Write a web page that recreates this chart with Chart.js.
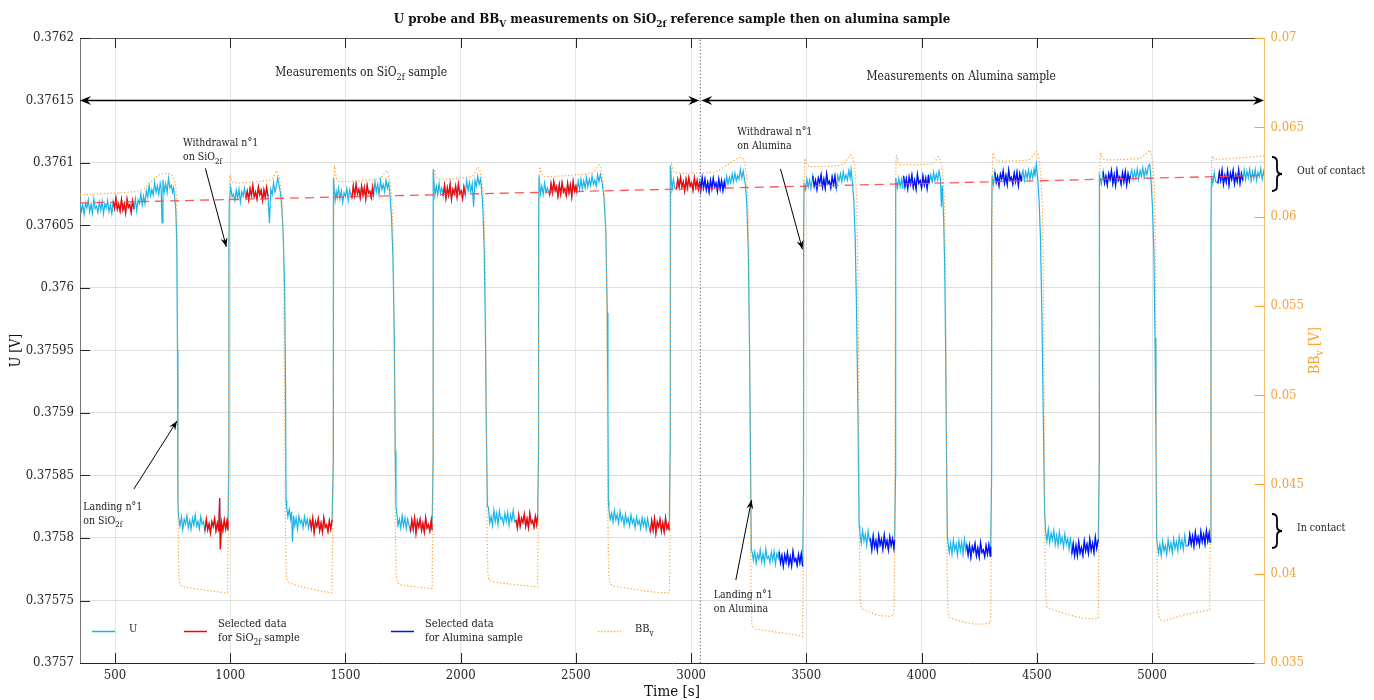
<!DOCTYPE html>
<html>
<head>
<meta charset="utf-8">
<script src="https://cdn.jsdelivr.net/npm/chart.js@4.4.1/dist/chart.umd.min.js"></script>
<style>
  html, body { margin: 0; padding: 0; background: #fff; }
  canvas { display: block; }
</style>
</head>
<body>
<canvas id="chart" width="1374" height="700"></canvas>
<script>
// U probe signal [time s, U V]
const uProbe = [
  // SiO2f: out of contact
  [348,0.3760698],[354,0.3760615],[360,0.3760662],[366,0.3760590],[372,0.3760680],[378,0.3760642],[384,0.3760705],[390,0.3760608],[396,0.3760670],[402,0.3760598],[408,0.3760712],[414,0.3760635],[420,0.3760655],[426,0.3760602],[432,0.3760688],[438,0.3760622],[444,0.3760695],[450,0.3760592],[456,0.3760675],[462,0.3760640],[468,0.3760702],[474,0.3760610],[480,0.3760665],[486,0.3760595],
  [492,0.3760695],[498,0.3760638],[504,0.3760720],[510,0.3760630],[516,0.3760668],[522,0.3760615],[528,0.3760708],[534,0.3760625],[540,0.3760672],[546,0.3760600],[552,0.3760710],[558,0.3760645],[564,0.3760665],[570,0.3760605],[576,0.3760698],[582,0.3760632],
  [588,0.3760715],[594,0.3760620],[600,0.3760705],[606,0.3760675],[612,0.3760752],[618,0.3760665],[624,0.3760735],[630,0.3760673],[636,0.3760775],[642,0.3760728],[648,0.3760820],[654,0.3760738],[660,0.3760788],[666,0.3760743],[672,0.3760843],[678,0.3760765],[684,0.3760817],[690,0.3760748],[696,0.3760840],[700,0.3760802],[704,0.3760520],[708,0.3760865],[714,0.3760770],[720,0.3760835],[726,0.3760763],[732,0.3760877],[738,0.3760800],[744,0.3760820],[750,0.3760767],[754,0.3760800],[758,0.3760740],[764,0.3760620],[768,0.3760350],[771,0.3759500],[773,0.3758300],
  // in contact
  [776,0.3758163],[782,0.3758097],[788,0.3758170],[794,0.3758067],[800,0.3758150],[806,0.3758115],[812,0.3758177],[818,0.3758085],[824,0.3758140],[830,0.3758070],[836,0.3758160],[842,0.3758103],[848,0.3758185],[854,0.3758095],[860,0.3758133],[866,0.3758073],[872,0.3758173],[878,0.3758110],[884,0.3758130],
  [890,0.3758055],[896,0.3758148],[902,0.3758065],[908,0.3758112],[914,0.3758040],[920,0.3758130],[926,0.3758092],[932,0.3758155],[938,0.3758058],[944,0.3758120],[950,0.3758052],[954,0.3758320],[957,0.3757910],[962,0.3758125],[968,0.3758060],[974,0.3758145],[980,0.3758072],[986,0.3758138],[990,0.3758062],
  [994,0.3758600],[994,0.3759500],[994,0.3760300],[996,0.3760700],
  // out of contact
  [1002,0.3760807],[1008,0.3760730],[1014,0.3760750],[1020,0.3760697],[1026,0.3760783],[1032,0.3760717],[1038,0.3760790],[1044,0.3760687],[1050,0.3760770],[1056,0.3760735],[1062,0.3760797],
  [1068,0.3760720],[1074,0.3760775],[1080,0.3760705],[1086,0.3760795],[1092,0.3760738],[1098,0.3760820],[1104,0.3760730],[1110,0.3760768],[1116,0.3760712],[1122,0.3760808],[1128,0.3760745],[1134,0.3760782],[1140,0.3760700],[1146,0.3760785],[1152,0.3760725],[1158,0.3760805],[1164,0.3760732],
  [1170,0.3760520],[1176,0.3760790],[1182,0.3760748],[1188,0.3760842],[1194,0.3760768],[1200,0.3760812],[1206,0.3760880],[1212,0.3760820],[1218,0.3760760],[1224,0.3760640],[1230,0.3760420],[1236,0.3760000],[1240,0.3759200],[1242,0.3758300],
  // in contact
  [1245,0.3758240],[1250,0.3758172],[1256,0.3758230],[1262,0.3758150],[1266,0.3758210],[1270,0.3757970],[1275,0.3758180],[1280,0.3758097],[1286,0.3758160],[1292,0.3758070],[1298,0.3758175],[1304,0.3758117],[1310,0.3758145],[1316,0.3758083],[1322,0.3758170],[1328,0.3758103],[1334,0.3758150],[1340,0.3758080],
  [1346,0.3758148],[1352,0.3758075],[1358,0.3758160],[1364,0.3758045],[1370,0.3758130],[1376,0.3758092],[1382,0.3758155],[1388,0.3758058],[1394,0.3758120],[1400,0.3758048],[1406,0.3758162],[1412,0.3758085],[1418,0.3758105],[1424,0.3758052],[1430,0.3758138],[1436,0.3758072],[1442,0.3758145],
  [1447,0.3758600],[1447,0.3759600],[1447,0.3760400],[1449,0.3760880],
  // out of contact
  [1455,0.3760700],[1460,0.3760770],[1464,0.3760722],[1470,0.3760800],[1476,0.3760712],[1482,0.3760778],[1488,0.3760685],[1494,0.3760760],[1500,0.3760730],[1506,0.3760795],[1512,0.3760698],[1518,0.3760785],
  [1528,0.3760718],[1534,0.3760818],[1540,0.3760740],[1546,0.3760830],[1552,0.3760755],[1558,0.3760790],[1564,0.3760722],[1570,0.3760815],[1576,0.3760742],[1582,0.3760805],[1588,0.3760712],[1594,0.3760822],[1600,0.3760760],[1606,0.3760775],[1612,0.3760722],[1618,0.3760808],[1622,0.3760742],
  [1628,0.3760850],[1634,0.3760770],[1640,0.3760830],[1646,0.3760745],[1652,0.3760860],[1658,0.3760790],[1664,0.3760828],[1670,0.3760770],[1676,0.3760862],[1682,0.3760800],[1688,0.3760840],[1694,0.3760720],[1700,0.3760560],[1706,0.3760250],[1712,0.3759600],[1716,0.3758700],[1719,0.3758250],
  // in contact
  [1722,0.3758210],[1728,0.3758100],[1734,0.3758150],[1740,0.3758077],[1746,0.3758180],[1752,0.3758095],[1758,0.3758160],[1764,0.3758075],[1770,0.3758150],[1776,0.3758103],
  [1782,0.3758052],[1788,0.3758145],[1794,0.3758070],[1800,0.3758160],[1806,0.3758040],[1812,0.3758135],[1818,0.3758088],[1824,0.3758150],[1830,0.3758060],[1836,0.3758118],[1842,0.3758048],[1848,0.3758162],[1854,0.3758080],[1860,0.3758108],[1866,0.3758055],[1872,0.3758140],[1876,0.3758065],
  [1880,0.3758600],[1880,0.3759600],[1880,0.3760500],[1882,0.3760950],
  // out of contact
  [1888,0.3760740],[1894,0.3760815],[1900,0.3760745],[1906,0.3760835],[1912,0.3760758],[1918,0.3760800],
  [1924,0.3760738],[1930,0.3760822],[1936,0.3760718],[1942,0.3760802],[1948,0.3760742],[1954,0.3760830],[1960,0.3760710],[1966,0.3760790],[1972,0.3760752],[1978,0.3760815],[1984,0.3760728],[1990,0.3760832],[1996,0.3760755],[2002,0.3760778],[2008,0.3760715],[2014,0.3760808],[2020,0.3760745],
  [2026,0.3760858],[2032,0.3760780],[2038,0.3760845],[2044,0.3760770],[2050,0.3760835],[2056,0.3760650],[2062,0.3760860],[2068,0.3760812],[2074,0.3760895],[2080,0.3760830],[2086,0.3760870],[2092,0.3760760],[2097,0.3760600],[2102,0.3760300],[2107,0.3759700],[2111,0.3758900],[2116,0.3758250],
  // in contact
  [2120,0.3758250],[2126,0.3758120],[2132,0.3758172],[2138,0.3758100],[2144,0.3758222],[2150,0.3758130],[2156,0.3758198],[2162,0.3758108],[2168,0.3758218],[2174,0.3758150],[2180,0.3758165],[2186,0.3758112],[2192,0.3758198],[2198,0.3758132],[2204,0.3758205],[2210,0.3758102],[2216,0.3758185],[2222,0.3758138],[2228,0.3758220],[2234,0.3758130],
  [2240,0.3758143],[2246,0.3758080],[2252,0.3758183],[2258,0.3758095],[2264,0.3758160],[2270,0.3758125],[2276,0.3758190],[2282,0.3758093],[2288,0.3758155],[2294,0.3758083],[2300,0.3758197],[2306,0.3758120],[2312,0.3758140],[2318,0.3758087],[2324,0.3758173],[2330,0.3758107],[2334,0.3758180],
  [2338,0.3758700],[2338,0.3759700],[2338,0.3760500],[2340,0.3760900],
  // out of contact
  [2346,0.3760752],[2352,0.3760815],[2358,0.3760748],[2364,0.3760840],[2370,0.3760765],[2376,0.3760802],
  [2386,0.3760742],[2392,0.3760835],[2398,0.3760762],[2404,0.3760850],[2410,0.3760780],[2416,0.3760812],[2422,0.3760735],[2428,0.3760828],[2434,0.3760750],[2440,0.3760842],[2446,0.3760768],[2452,0.3760795],[2458,0.3760740],[2464,0.3760838],[2470,0.3760760],[2476,0.3760825],[2482,0.3760732],[2488,0.3760852],[2494,0.3760775],[2500,0.3760815],[2504,0.3760762],
  [2510,0.3760855],[2516,0.3760790],[2522,0.3760870],[2528,0.3760795],[2534,0.3760858],[2540,0.3760800],[2546,0.3760885],[2552,0.3760810],[2558,0.3760870],[2564,0.3760818],[2570,0.3760895],[2576,0.3760830],[2582,0.3760862],[2588,0.3760815],[2594,0.3760905],[2600,0.3760850],[2606,0.3760910],[2614,0.3760840],[2622,0.3760720],[2630,0.3760450],[2636,0.3759800],[2639,0.3759000],[2641,0.3758300],
  // in contact
  [2643,0.3758228],[2649,0.3758150],[2655,0.3758200],[2661,0.3758128],[2667,0.3758220],[2673,0.3758145],[2679,0.3758190],[2685,0.3758118],[2691,0.3758212],[2697,0.3758140],[2703,0.3758175],[2709,0.3758100],[2715,0.3758190],[2721,0.3758125],[2727,0.3758160],[2733,0.3758095],[2739,0.3758185],[2745,0.3758118],[2751,0.3758150],[2757,0.3758082],[2763,0.3758168],[2769,0.3758110],[2775,0.3758140],[2781,0.3758075],[2787,0.3758162],[2793,0.3758098],[2799,0.3758150],[2805,0.3758072],[2811,0.3758155],[2817,0.3758090],
  [2823,0.3758045],[2829,0.3758140],[2835,0.3758062],[2841,0.3758155],[2847,0.3758038],[2853,0.3758128],[2859,0.3758090],[2865,0.3758150],[2871,0.3758055],[2877,0.3758122],[2883,0.3758048],[2889,0.3758160],[2895,0.3758075],[2901,0.3758110],[2905,0.3758060],
  [2909,0.3758700],[2909,0.3759700],[2909,0.3760500],[2911,0.3760980],
  // out of contact
  [2917,0.3760790],[2923,0.3760870],[2929,0.3760800],
  [2936,0.3760790],[2942,0.3760868],[2948,0.3760805],[2954,0.3760885],[2960,0.3760808],[2966,0.3760850],[2972,0.3760775],[2978,0.3760868],[2984,0.3760800],[2990,0.3760882],[2996,0.3760815],[3002,0.3760842],[3008,0.3760782],[3014,0.3760878],[3020,0.3760805],[3026,0.3760860],[3032,0.3760790],[3037,0.3760855],
  // alumina: out of contact
  [3042,0.3760780],[3048,0.3760880],[3054,0.3760800],[3060,0.3760870],[3066,0.3760785],[3072,0.3760845],[3078,0.3760770],[3084,0.3760862],[3090,0.3760795],[3096,0.3760877],[3102,0.3760810],[3108,0.3760840],[3114,0.3760773],[3120,0.3760870],[3126,0.3760792],[3132,0.3760860],[3138,0.3760780],[3144,0.3760850],[3148,0.3760800],
  [3154,0.3760895],[3160,0.3760830],[3166,0.3760885],[3172,0.3760840],[3178,0.3760912],[3184,0.3760848],[3190,0.3760920],[3196,0.3760858],[3202,0.3760900],[3208,0.3760870],[3214,0.3760950],[3220,0.3760880],[3226,0.3760935],[3232,0.3760865],[3236,0.3760820],[3242,0.3760650],[3248,0.3760300],[3253,0.3759600],[3257,0.3758800],[3261,0.3757900],
  // in contact
  [3264,0.3757895],[3270,0.3757822],[3276,0.3757890],[3282,0.3757797],[3288,0.3757870],[3294,0.3757830],[3300,0.3757905],[3306,0.3757808],[3312,0.3757875],[3318,0.3757800],[3324,0.3757912],[3330,0.3757835],[3336,0.3757855],[3342,0.3757802],[3348,0.3757888],[3354,0.3757822],[3360,0.3757895],[3366,0.3757792],[3372,0.3757875],[3378,0.3757840],
  [3382,0.3757890],[3388,0.3757800],[3394,0.3757860],[3400,0.3757775],[3406,0.3757865],[3412,0.3757808],[3418,0.3757882],[3424,0.3757788],[3430,0.3757850],[3436,0.3757778],[3442,0.3757892],[3448,0.3757815],[3454,0.3757835],[3460,0.3757782],[3466,0.3757868],[3472,0.3757802],[3478,0.3757875],[3484,0.3757772],
  [3488,0.3758400],[3488,0.3759500],[3488,0.3760400],[3490,0.3760830],
  // out of contact
  [3496,0.3760790],[3502,0.3760872],[3508,0.3760808],[3514,0.3760865],[3520,0.3760795],
  [3528,0.3760898],[3534,0.3760815],[3540,0.3760862],[3546,0.3760790],[3552,0.3760880],[3558,0.3760842],[3564,0.3760905],[3570,0.3760808],[3576,0.3760870],[3582,0.3760798],[3588,0.3760912],[3594,0.3760835],[3600,0.3760855],[3606,0.3760802],[3612,0.3760888],[3618,0.3760828],[3624,0.3760895],[3630,0.3760795],
  [3636,0.3760900],[3642,0.3760858],[3648,0.3760915],[3654,0.3760850],[3660,0.3760930],[3666,0.3760868],[3672,0.3760905],[3678,0.3760862],[3684,0.3760940],[3690,0.3760880],[3694,0.3760950],[3700,0.3760840],[3706,0.3760700],[3712,0.3760400],[3718,0.3759800],[3724,0.3759000],[3729,0.3758100],
  // in contact
  [3732,0.3758045],[3738,0.3757958],[3744,0.3758060],[3750,0.3757975],[3756,0.3758030],[3762,0.3757942],[3768,0.3758055],[3774,0.3757980],
  [3778,0.3757995],[3784,0.3757905],[3790,0.3758015],[3796,0.3757925],[3802,0.3757978],[3808,0.3757902],[3814,0.3758020],[3820,0.3757945],[3826,0.3757990],[3832,0.3757912],[3838,0.3758022],[3844,0.3757935],[3850,0.3757980],[3856,0.3757905],[3862,0.3758010],[3868,0.3757940],[3874,0.3757995],[3880,0.3757918],[3883,0.3757985],
  [3887,0.3758500],[3887,0.3759500],[3887,0.3760400],[3889,0.3760880],
  // out of contact
  [3895,0.3760800],[3901,0.3760878],[3907,0.3760810],[3913,0.3760870],[3918,0.3760795],
  [3922,0.3760898],[3928,0.3760812],[3934,0.3760875],[3940,0.3760795],[3946,0.3760888],[3952,0.3760830],[3958,0.3760902],[3964,0.3760805],[3970,0.3760862],[3976,0.3760790],[3982,0.3760910],[3988,0.3760838],[3994,0.3760860],[4000,0.3760800],[4006,0.3760895],[4012,0.3760825],[4018,0.3760880],[4024,0.3760798],[4030,0.3760905],[4033,0.3760840],
  [4040,0.3760905],[4046,0.3760850],[4052,0.3760925],[4058,0.3760858],[4064,0.3760912],[4070,0.3760865],[4076,0.3760935],[4082,0.3760875],[4086,0.3760650],[4090,0.3760820],[4096,0.3760550],[4101,0.3760100],[4105,0.3759400],[4109,0.3758500],[4112,0.3758000],
  // in contact
  [4114,0.3757975],[4120,0.3757885],[4126,0.3757962],[4132,0.3757870],[4138,0.3757985],[4144,0.3757902],[4150,0.3757950],[4156,0.3757862],[4162,0.3757978],[4168,0.3757895],[4174,0.3757968],[4180,0.3757870],[4186,0.3757990],[4192,0.3757900],
  [4196,0.3757948],[4202,0.3757865],[4208,0.3757942],[4214,0.3757845],[4220,0.3757930],[4226,0.3757892],[4232,0.3757955],[4238,0.3757858],[4244,0.3757920],[4250,0.3757848],[4256,0.3757962],[4262,0.3757885],[4268,0.3757905],[4274,0.3757852],[4280,0.3757938],[4286,0.3757872],[4292,0.3757945],[4298,0.3757855],[4300,0.3757930],
  [4304,0.3758500],[4304,0.3759600],[4304,0.3760500],[4306,0.3760900],
  // out of contact
  [4312,0.3760830],
  [4318,0.3760928],[4324,0.3760845],[4330,0.3760892],[4336,0.3760820],[4342,0.3760910],[4348,0.3760872],[4354,0.3760935],[4360,0.3760838],[4366,0.3760900],[4372,0.3760828],[4378,0.3760942],[4384,0.3760865],[4390,0.3760885],[4396,0.3760832],[4402,0.3760918],[4408,0.3760852],[4414,0.3760925],[4420,0.3760822],[4426,0.3760915],[4432,0.3760858],[4434,0.3760900],
  [4440,0.3760940],[4446,0.3760862],[4452,0.3760930],[4458,0.3760878],[4464,0.3760945],[4470,0.3760870],[4476,0.3760935],[4482,0.3760882],[4488,0.3760950],[4492,0.3760890],[4498,0.3760990],[4504,0.3760880],[4510,0.3760700],[4516,0.3760400],[4522,0.3759800],[4528,0.3759000],[4534,0.3758200],
  // in contact
  [4538,0.3758058],[4544,0.3757975],[4550,0.3758070],[4556,0.3757960],[4562,0.3758040],[4568,0.3757985],[4574,0.3758062],[4580,0.3757948],[4586,0.3758022],[4592,0.3757940],[4598,0.3758050],[4604,0.3757962],[4610,0.3758005],[4616,0.3757928],[4622,0.3758032],[4628,0.3757950],[4634,0.3757995],[4640,0.3757912],[4646,0.3758010],
  [4652,0.3757872],[4658,0.3757955],[4664,0.3757860],[4670,0.3757940],[4676,0.3757858],[4682,0.3757968],[4688,0.3757880],[4694,0.3757925],[4700,0.3757862],[4706,0.3757975],[4712,0.3757895],[4718,0.3757950],[4724,0.3757878],[4730,0.3757992],[4736,0.3757900],[4742,0.3757960],[4748,0.3757885],[4754,0.3758005],[4760,0.3757918],[4767,0.3757990],
  [4771,0.3758600],[4771,0.3759600],[4771,0.3760500],[4773,0.3760900],
  // out of contact
  [4780,0.3760830],
  [4788,0.3760932],[4794,0.3760840],[4800,0.3760895],[4806,0.3760825],[4812,0.3760915],[4818,0.3760868],[4824,0.3760938],[4830,0.3760835],[4836,0.3760905],[4842,0.3760822],[4848,0.3760940],[4854,0.3760860],[4860,0.3760888],[4866,0.3760830],[4872,0.3760922],[4878,0.3760850],[4884,0.3760930],[4890,0.3760825],[4896,0.3760912],[4902,0.3760855],[4906,0.3760900],
  [4912,0.3760945],[4918,0.3760868],[4924,0.3760935],[4930,0.3760880],[4936,0.3760952],[4942,0.3760872],[4948,0.3760940],[4954,0.3760895],[4960,0.3760962],[4966,0.3760885],[4972,0.3760950],[4978,0.3760905],[4984,0.3760975],[4990,0.3760990],[4996,0.3760850],[5002,0.3760650],[5008,0.3760300],[5013,0.3759600],[5017,0.3758800],[5020,0.3758000],
  // in contact
  [5022,0.3757965],[5028,0.3757880],[5034,0.3757950],[5040,0.3757858],[5046,0.3757975],[5052,0.3757895],[5058,0.3757940],[5064,0.3757868],[5070,0.3757985],[5076,0.3757902],[5082,0.3757962],[5088,0.3757880],[5094,0.3757995],[5100,0.3757915],[5106,0.3757970],[5112,0.3757898],[5118,0.3758010],[5124,0.3757925],[5130,0.3757985],[5136,0.3757910],[5142,0.3758020],[5148,0.3757935],
  [5158,0.3757940],[5164,0.3758030],[5170,0.3757950],[5176,0.3758015],[5182,0.3757935],[5188,0.3758045],[5194,0.3757962],[5200,0.3758010],[5206,0.3757945],[5212,0.3758050],[5218,0.3757970],[5224,0.3758028],[5230,0.3757952],[5236,0.3758058],[5242,0.3757975],[5248,0.3758040],[5252,0.3757965],
  [5256,0.3758600],[5256,0.3759600],[5256,0.3760500],[5258,0.3760900],
  // out of contact
  [5264,0.3760835],[5270,0.3760925],[5276,0.3760850],
  [5286,0.3760838],[5292,0.3760925],[5298,0.3760860],[5304,0.3760942],[5310,0.3760830],[5316,0.3760900],[5322,0.3760848],[5328,0.3760935],[5334,0.3760825],[5340,0.3760918],[5346,0.3760870],[5352,0.3760940],[5358,0.3760835],[5364,0.3760905],[5370,0.3760852],[5376,0.3760945],[5382,0.3760838],[5388,0.3760915],[5394,0.3760860],
  [5400,0.3760945],[5406,0.3760865],[5412,0.3760935],[5418,0.3760880],[5424,0.3760952],[5430,0.3760858],[5436,0.3760930],[5442,0.3760875],[5448,0.3760948],[5454,0.3760862],[5460,0.3760925],[5466,0.3760890],[5472,0.3760955],[5478,0.3760870],[5484,0.3760930],[5486,0.3760900]
];

// BB_v signal [time s, V], right axis
const bbV = [
  [348,0.06121],[370,0.06124],[390,0.06122],[410,0.06126],[430,0.06125],[450,0.06129],[470,0.06128],[490,0.06132],[510,0.06131],[530,0.06134],[550,0.06136],[570,0.06138],[590,0.06140],[610,0.06146],[630,0.06160],[650,0.06185],[665,0.06205],[680,0.06225],[695,0.06236],[710,0.06240],[725,0.06244],[740,0.06238],[750,0.06225],[758,0.06200],[764,0.06160],[768,0.06080],[771,0.05700],[773,0.04800],[775,0.04100],[778,0.03960],
  [784,0.03935],[800,0.03927],[820,0.03922],[840,0.03918],[860,0.03913],[880,0.03910],[900,0.03906],[920,0.03903],[940,0.03900],[960,0.03896],[980,0.03892],[988,0.03895],
  [991,0.04200],[993,0.05200],[995,0.05900],[997,0.06200],[999,0.06233],[1004,0.06210],[1012,0.06192],
  [1030,0.06186],[1050,0.06188],[1070,0.06190],[1090,0.06192],[1110,0.06195],[1130,0.06197],[1150,0.06200],[1170,0.06203],[1185,0.06215],[1195,0.06240],[1201,0.06257],[1207,0.06245],[1213,0.06215],[1219,0.06170],[1225,0.06080],[1231,0.05800],[1236,0.05000],[1240,0.04200],[1243,0.03990],[1248,0.03960],
  [1260,0.03946],[1280,0.03938],[1300,0.03930],[1320,0.03924],[1340,0.03918],[1360,0.03912],[1380,0.03906],[1400,0.03902],[1420,0.03897],[1440,0.03893],
  [1445,0.04200],[1447,0.05200],[1449,0.05900],[1451,0.06250],[1453,0.06270],[1460,0.06215],[1470,0.06198],
  [1490,0.06195],[1510,0.06196],[1530,0.06198],[1550,0.06199],[1570,0.06201],[1590,0.06203],[1610,0.06205],[1630,0.06207],[1650,0.06212],[1662,0.06228],[1672,0.06250],[1678,0.06257],[1684,0.06245],[1690,0.06215],[1696,0.06170],[1702,0.06080],[1708,0.05800],[1713,0.05000],[1717,0.04200],[1720,0.03990],[1725,0.03950],
  [1740,0.03937],[1760,0.03933],[1780,0.03930],[1800,0.03927],[1820,0.03924],[1840,0.03921],[1860,0.03919],[1876,0.03918],
  [1878,0.04200],[1880,0.05200],[1882,0.05900],[1884,0.06250],[1886,0.06265],[1893,0.06225],[1903,0.06210],
  [1920,0.06209],[1940,0.06211],[1960,0.06212],[1980,0.06214],[2000,0.06216],[2020,0.06218],[2040,0.06222],[2055,0.06232],[2066,0.06258],[2075,0.06276],[2082,0.06262],[2088,0.06232],[2094,0.06180],[2100,0.06080],[2106,0.05800],[2111,0.05000],[2115,0.04200],[2118,0.04000],[2123,0.03965],
  [2140,0.03955],[2160,0.03951],[2180,0.03947],[2200,0.03944],[2220,0.03941],[2240,0.03938],[2260,0.03935],[2280,0.03933],[2300,0.03930],[2320,0.03928],[2334,0.03927],
  [2336,0.04200],[2338,0.05200],[2340,0.05900],[2342,0.06260],[2344,0.06280],[2351,0.06240],[2361,0.06225],
  [2380,0.06223],[2400,0.06224],[2420,0.06226],[2440,0.06228],[2460,0.06229],[2480,0.06231],[2500,0.06233],[2520,0.06235],[2540,0.06237],[2560,0.06240],[2575,0.06248],[2588,0.06270],[2600,0.06289],[2607,0.06272],[2614,0.06240],[2620,0.06190],[2626,0.06090],[2632,0.05800],[2636,0.05000],[2639,0.04300],[2642,0.04000],[2647,0.03950],
  [2660,0.03931],[2680,0.03927],[2700,0.03923],[2720,0.03919],[2740,0.03915],[2760,0.03911],[2780,0.03907],[2800,0.03903],[2820,0.03900],[2840,0.03897],[2860,0.03895],[2880,0.03894],[2900,0.03893],[2906,0.03896],
  [2908,0.04200],[2910,0.05200],[2912,0.05900],[2914,0.06270],[2916,0.06289],[2923,0.06255],[2933,0.06244],
  [2950,0.06242],[2970,0.06243],[2990,0.06242],[3010,0.06244],[3030,0.06243],[3050,0.06245],[3070,0.06244],[3090,0.06246],[3104,0.06247],[3120,0.06258],[3140,0.06275],[3160,0.06292],[3174,0.06303],[3190,0.06318],[3205,0.06328],[3218,0.06332],[3226,0.06322],[3234,0.06290],[3240,0.06230],[3246,0.06100],[3251,0.05800],[3255,0.05000],[3258,0.04200],[3261,0.03800],[3264,0.03710],
  [3275,0.03692],[3295,0.03688],[3315,0.03684],[3335,0.03680],[3355,0.03676],[3375,0.03672],[3395,0.03668],[3415,0.03664],[3435,0.03660],[3455,0.03656],[3475,0.03652],[3484,0.03651],
  [3486,0.04000],[3488,0.05000],[3490,0.05900],[3492,0.06300],[3494,0.06326],[3501,0.06295],[3511,0.06281],
  [3530,0.06279],[3550,0.06280],[3570,0.06281],[3590,0.06282],[3610,0.06283],[3630,0.06285],[3650,0.06288],[3665,0.06298],[3680,0.06325],[3692,0.06345],[3700,0.06330],[3707,0.06295],[3713,0.06230],[3719,0.06080],[3724,0.05700],[3728,0.04800],[3731,0.04100],[3734,0.03850],[3740,0.03805],
  [3755,0.03795],[3775,0.03785],[3795,0.03775],[3815,0.03768],[3835,0.03763],[3855,0.03761],[3870,0.03763],[3880,0.03770],
  [3883,0.04100],[3885,0.05100],[3887,0.05900],[3889,0.06320],[3891,0.06345],[3898,0.06305],[3908,0.06291],
  [3925,0.06289],[3945,0.06290],[3965,0.06291],[3985,0.06291],[4005,0.06292],[4025,0.06293],[4045,0.06295],[4058,0.06308],[4066,0.06325],[4072,0.06335],[4080,0.06320],[4087,0.06285],[4093,0.06220],[4099,0.06080],[4104,0.05700],[4108,0.04800],[4111,0.04000],[4114,0.03800],[4120,0.03755],
  [4135,0.03748],[4155,0.03740],[4175,0.03732],[4195,0.03726],[4215,0.03721],[4235,0.03718],[4255,0.03718],[4275,0.03719],[4290,0.03722],[4300,0.03728],
  [4302,0.04100],[4304,0.05100],[4306,0.05900],[4308,0.06330],[4310,0.06358],[4317,0.06325],[4327,0.06312],
  [4345,0.06311],[4365,0.06311],[4385,0.06312],[4405,0.06312],[4425,0.06313],[4445,0.06314],[4465,0.06318],[4480,0.06335],[4490,0.06352],[4498,0.06363],[4505,0.06345],[4512,0.06300],[4518,0.06220],[4524,0.06050],[4529,0.05600],[4533,0.04700],[4536,0.04100],[4539,0.03870],[4545,0.03812],
  [4560,0.03803],[4580,0.03795],[4600,0.03786],[4620,0.03778],[4640,0.03770],[4660,0.03763],[4680,0.03757],[4700,0.03752],[4720,0.03749],[4740,0.03747],[4760,0.03746],[4767,0.03750],
  [4769,0.04100],[4771,0.05100],[4773,0.05900],[4775,0.06330],[4777,0.06358],[4784,0.06328],[4794,0.06318],
  [4810,0.06317],[4830,0.06318],[4850,0.06319],[4870,0.06320],[4890,0.06321],[4910,0.06322],[4930,0.06324],[4950,0.06328],[4965,0.06340],[4978,0.06358],[4990,0.06373],[4997,0.06350],[5003,0.06300],[5009,0.06200],[5014,0.05900],[5018,0.05000],[5021,0.04200],[5024,0.03820],[5030,0.03760],
  [5040,0.03740],[5055,0.03737],[5070,0.03742],[5090,0.03750],[5110,0.03758],[5130,0.03765],[5150,0.03772],[5170,0.03778],[5190,0.03783],[5210,0.03788],[5230,0.03792],[5250,0.03797],
  [5253,0.04200],[5255,0.05200],[5257,0.05900],[5259,0.06320],[5261,0.06340],[5268,0.06325],[5278,0.06321],
  [5300,0.06321],[5320,0.06323],[5340,0.06325],[5360,0.06327],[5380,0.06329],[5400,0.06331],[5420,0.06333],[5440,0.06335],[5460,0.06337],[5486,0.06339]
];

// time windows of the selected data
const sioWindows = [[490,582],[890,990],[1067,1167],[1346,1445],[1527,1622],[1781,1877],[1922,2024],[2239,2336],[2384,2505],[2822,2906],[2934,3037]];
const aluWindows = [[3037,3148],[3380,3486],[3525,3630],[3775,3885],[3920,4033],[4195,4302],[4316,4435],[4649,4769],[4787,4907],[5156,5253],[5283,5396]];

// drift line and sample change
const trend = [[348,0.376068],[5486,0.37609]];
const sampleChange = 3040;

const timeRange = [348, 5486];
const timeTicks = [500,1000,1500,2000,2500,3000,3500,4000,4500,5000];
const uTicks = [0.3757,0.37575,0.3758,0.37585,0.3759,0.37595,0.376,0.37605,0.3761,0.37615,0.3762];
const uTickLabels = ['0.3757','0.37575','0.3758','0.37585','0.3759','0.37595','0.376','0.37605','0.3761','0.37615','0.3762'];
const bbTicks = [0.035,0.04,0.045,0.05,0.055,0.06,0.065,0.07];
const bbTickLabels = ['0.035','0.04','0.045','0.05','0.055','0.06','0.065','0.07'];

// annotations, anchored in data units
const notes = [
  { t: 1568, u: 0.376173, lines: ['Measurements on SiO_{2f} sample'], size: 12, align: 'center' },
  { t: 4172, u: 0.3761696, lines: ['Measurements on Alumina sample'], size: 12, align: 'center' },
  { t: 795, u: 0.3761168, lines: ['Withdrawal n°1', 'on SiO_{2f}'], size: 10.5, align: 'left' },
  { t: 3200, u: 0.3761256, lines: ['Withdrawal n°1', 'on Alumina'], size: 10.5, align: 'left' },
  { t: 362, u: 0.3758258, lines: ['Landing n°1', 'on SiO_{2f}'], size: 10.5, align: 'left' },
  { t: 3098, u: 0.3757552, lines: ['Landing n°1', 'on Alumina'], size: 10.5, align: 'left' }
];
const pointers = [
  { from: [892, 0.3760958], to: [983, 0.376033] },
  { from: [3388, 0.3760952], to: [3483, 0.376031] },
  { from: [582, 0.3758392], to: [769, 0.3758936] },
  { from: [3194, 0.3757664], to: [3262, 0.3758304] }
];
const spanLevel = 0.37615;
const braces = [
  { bb: 0.062384, label: 'Out of contact' },
  { bb: 0.042392, label: 'In contact' }
];

const FONT = '"DejaVu Serif Condensed", "DejaVu Serif", serif';
const C_U = '#1ab4e6', C_SIO = '#ff0000', C_ALU = '#0a0aff', C_BB = '#ff9f2e', C_AXIS = '#262626';

function pick(windows) {
  const out = [];
  windows.forEach(([a, b]) => {
    uProbe.forEach(([t, v]) => { if (t >= a && t <= b) out.push({ x: t, y: v }); });
    out.push({ x: b, y: null });
  });
  return out;
}
const xy = arr => arr.map(([x, y]) => ({ x, y }));

function richParts(s) {
  const out = [];
  const re = /_\{([^}]*)\}/g;
  let last = 0, m;
  while ((m = re.exec(s))) {
    if (m.index > last) out.push([s.slice(last, m.index), false]);
    out.push([m[1], true]);
    last = re.lastIndex;
  }
  if (last < s.length) out.push([s.slice(last), false]);
  return out;
}

function drawRich(ctx, s, x, y, size, align, weight) {
  const parts = richParts(s);
  const fontOf = sub => (weight || 'normal') + ' ' + (sub ? size * 0.75 : size) + 'px ' + FONT;
  let w = 0;
  parts.forEach(([t, sub]) => { ctx.font = fontOf(sub); w += ctx.measureText(t).width; });
  let cx = align === 'center' ? x - w / 2 : align === 'right' ? x - w : x;
  ctx.textAlign = 'left';
  ctx.textBaseline = 'alphabetic';
  parts.forEach(([t, sub]) => {
    ctx.font = fontOf(sub);
    ctx.fillText(t, cx, sub ? y + size * 0.32 : y);
    cx += ctx.measureText(t).width;
  });
}

function arrowHead(ctx, x1, y1, x2, y2, len, half) {
  const a = Math.atan2(y2 - y1, x2 - x1);
  const c = Math.cos(a), s = Math.sin(a);
  ctx.beginPath();
  ctx.moveTo(x2, y2);
  ctx.lineTo(x2 - len * c + half * s, y2 - len * s - half * c);
  ctx.lineTo(x2 - len * 0.65 * c, y2 - len * 0.65 * s);
  ctx.lineTo(x2 - len * c - half * s, y2 - len * s + half * c);
  ctx.closePath();
  ctx.fill();
}

function brace(ctx, x0, yc, half, w) {
  const xm = x0 + w * 0.5;
  ctx.beginPath();
  ctx.moveTo(x0, yc - half);
  ctx.quadraticCurveTo(xm, yc - half, xm, yc - half + 5);
  ctx.lineTo(xm, yc - 5);
  ctx.quadraticCurveTo(xm, yc, x0 + w, yc);
  ctx.quadraticCurveTo(xm, yc, xm, yc + 5);
  ctx.lineTo(xm, yc + half - 5);
  ctx.quadraticCurveTo(xm, yc + half, x0, yc + half);
  ctx.stroke();
}

const decorations = {
  id: 'decorations',
  afterDraw(chart) {
    const { ctx, chartArea: a, scales } = chart;
    const x = scales.x, y = scales.y, y2 = scales.y2;
    ctx.save();

    // top frame line
    ctx.strokeStyle = '#555';
    ctx.lineWidth = 1;
    ctx.beginPath();
    ctx.moveTo(a.left, a.top + 0.5);
    ctx.lineTo(a.right, a.top + 0.5);
    ctx.stroke();

    // right axis (BB_v): line, ticks, labels
    const rx = Math.round(a.right) + 0.5;
    ctx.strokeStyle = '#ffbe6e';
    ctx.beginPath();
    ctx.moveTo(rx, a.top); ctx.lineTo(rx, a.bottom + 1);
    ctx.stroke();
    ctx.strokeStyle = C_BB;
    ctx.beginPath();
    bbTicks.forEach(v => {
      const py = Math.round(y2.getPixelForValue(v)) + 0.5;
      ctx.moveTo(rx, py); ctx.lineTo(rx - 10, py);
    });
    ctx.stroke();
    ctx.fillStyle = '#f7a23a';
    ctx.font = '13px ' + FONT;
    ctx.textAlign = 'left';
    ctx.textBaseline = 'middle';
    bbTicks.forEach((v, i) => ctx.fillText(bbTickLabels[i], rx + 6, y2.getPixelForValue(v)));

    // inward ticks
    ctx.strokeStyle = C_AXIS;
    ctx.beginPath();
    timeTicks.forEach(t => {
      const px = Math.round(x.getPixelForValue(t)) + 0.5;
      ctx.moveTo(px, a.bottom); ctx.lineTo(px, a.bottom - 10);
      ctx.moveTo(px, a.top); ctx.lineTo(px, a.top + 10);
    });
    uTicks.forEach(v => {
      const py = Math.round(y.getPixelForValue(v)) + 0.5;
      ctx.moveTo(a.left, py); ctx.lineTo(a.left + 10, py);
    });
    ctx.stroke();

    // measurement spans
    ctx.fillStyle = '#000';
    ctx.strokeStyle = '#000';
    ctx.lineWidth = 1.3;
    const sy = y.getPixelForValue(spanLevel);
    const sx = x.getPixelForValue(sampleChange);
    [[a.left, sx - 1], [sx + 1, a.right]].forEach(([p, q]) => {
      ctx.beginPath();
      ctx.moveTo(p + 4, sy); ctx.lineTo(q - 4, sy);
      ctx.stroke();
      arrowHead(ctx, q, sy, p, sy, 11, 4.5);
      arrowHead(ctx, p, sy, q, sy, 11, 4.5);
    });

    // pointers
    ctx.lineWidth = 1;
    pointers.forEach(pt => {
      const x1 = x.getPixelForValue(pt.from[0]), y1 = y.getPixelForValue(pt.from[1]);
      const x2 = x.getPixelForValue(pt.to[0]), y2p = y.getPixelForValue(pt.to[1]);
      ctx.beginPath();
      ctx.moveTo(x1, y1); ctx.lineTo(x2, y2p);
      ctx.stroke();
      arrowHead(ctx, x1, y1, x2, y2p, 9, 3.5);
    });

    // notes
    ctx.fillStyle = '#222';
    notes.forEach(n => {
      const px = x.getPixelForValue(n.t);
      let py = y.getPixelForValue(n.u) + n.size * 0.36;
      n.lines.forEach(line => {
        drawRich(ctx, line, px, py, n.size, n.align);
        py += n.size * 1.38;
      });
    });

    // braces on the right
    braces.forEach(b => {
      const py = y2.getPixelForValue(b.bb);
      ctx.strokeStyle = '#000';
      ctx.lineWidth = 1.8;
      brace(ctx, a.right + 8, py, 17, 10);
      ctx.fillStyle = '#222';
      ctx.font = '10.5px ' + FONT;
      ctx.textAlign = 'left';
      ctx.textBaseline = 'middle';
      ctx.fillText(b.label, a.right + 33, py - 3);
    });

    // legend
    const ly = a.bottom - 32;
    const items = [
      { dx: 12, color: C_U, lines: ['U'] },
      { dx: 104, color: C_SIO, lines: ['Selected data', 'for SiO_{2f} sample'] },
      { dx: 311, color: C_ALU, lines: ['Selected data', 'for Alumina sample'] },
      { dx: 518, color: C_BB, dash: [1.2, 2], lines: ['BB_{v}'] }
    ];
    items.forEach(it => {
      const lx = a.left + it.dx;
      ctx.strokeStyle = it.color;
      ctx.lineWidth = 1.5;
      ctx.setLineDash(it.dash || []);
      ctx.beginPath();
      ctx.moveTo(lx, ly + 0.5); ctx.lineTo(lx + 23, ly + 0.5);
      ctx.stroke();
      ctx.setLineDash([]);
      ctx.fillStyle = '#222';
      if (it.lines.length === 1) {
        drawRich(ctx, it.lines[0], lx + 37, ly + 1, 11, 'left');
      } else {
        drawRich(ctx, it.lines[0], lx + 34, ly - 4, 11, 'left');
        drawRich(ctx, it.lines[1], lx + 34, ly + 10, 11, 'left');
      }
    });

    // titles
    ctx.fillStyle = '#111';
    drawRich(ctx, 'U probe and BB_{V} measurements on SiO_{2f} reference sample then on alumina sample', (a.left + a.right) / 2, 23, 13.2, 'center', 'bold');
    drawRich(ctx, 'Time [s]', (a.left + a.right) / 2, 696, 15, 'center');
    const my = (a.top + a.bottom) / 2;
    ctx.save();
    ctx.translate(20, my);
    ctx.rotate(-Math.PI / 2);
    drawRich(ctx, 'U [V]', 0, 0, 14, 'center');
    ctx.restore();
    ctx.save();
    ctx.fillStyle = C_BB;
    ctx.translate(a.right + 55, my);
    ctx.rotate(-Math.PI / 2);
    drawRich(ctx, 'BB_{v} [V]', 0, 0, 14, 'center');
    ctx.restore();

    ctx.restore();
  }
};

const ctx = document.getElementById('chart').getContext('2d');
const chart = new Chart(ctx, {
  type: 'line',
  data: {
    datasets: [
      { label: 'drift', data: xy(trend), borderColor: 'rgba(255,70,70,0.9)', borderWidth: 1.3, borderDash: [9, 6], yAxisID: 'y' },
      { label: 'change', data: [{ x: sampleChange, y: uTicks[0] }, { x: sampleChange, y: uTicks[uTicks.length - 1] }], borderColor: '#555', borderWidth: 1, borderDash: [1.2, 2.2], yAxisID: 'y' },
      { label: 'Selected data for SiO2f sample', data: pick(sioWindows), borderColor: C_SIO, borderWidth: 1.3, spanGaps: false, yAxisID: 'y' },
      { label: 'Selected data for Alumina sample', data: pick(aluWindows), borderColor: C_ALU, borderWidth: 1.3, spanGaps: false, yAxisID: 'y' },
      { label: 'BBv', data: xy(bbV), borderColor: C_BB, borderWidth: 1.2, borderDash: [1.2, 2.2], yAxisID: 'y2' },
      { label: 'U', data: xy(uProbe), borderColor: C_U, borderWidth: 1.2, yAxisID: 'y' }
    ]
  },
  options: {
    responsive: false,
    animation: false,
    events: [],
    devicePixelRatio: 1,
    layout: { padding: { top: 38, left: 0, right: 110, bottom: 0 } },
    elements: { point: { radius: 0 }, line: { tension: 0, fill: false } },
    plugins: { legend: { display: false }, tooltip: { enabled: false } },
    scales: {
      x: {
        type: 'linear', min: timeRange[0], max: timeRange[1],
        afterBuildTicks: s => { s.ticks = timeTicks.map(v => ({ value: v })); },
        afterFit: s => { s.height = 37; },
        ticks: { autoSkip: false, maxRotation: 0, padding: 5, color: C_AXIS, font: { family: FONT, size: 13 }, callback: v => String(v) },
        grid: { color: '#e6e6e6', drawTicks: false },
        border: { color: C_AXIS }
      },
      y: {
        type: 'linear', position: 'left', min: uTicks[0], max: uTicks[uTicks.length - 1],
        afterBuildTicks: s => { s.ticks = uTicks.map(v => ({ value: v })); },
        afterFit: s => { s.width = 80; },
        ticks: { padding: 6, color: C_AXIS, font: { family: FONT, size: 13 }, callback: (v, i) => uTickLabels[i] },
        grid: { color: '#dedede', drawTicks: false },
        border: { color: '#777' }
      },
      y2: {
        type: 'linear', position: 'right', display: false,
        min: bbTicks[0], max: bbTicks[bbTicks.length - 1]
      }
    }
  },
  plugins: [decorations]
});
</script>
</body>
</html>
